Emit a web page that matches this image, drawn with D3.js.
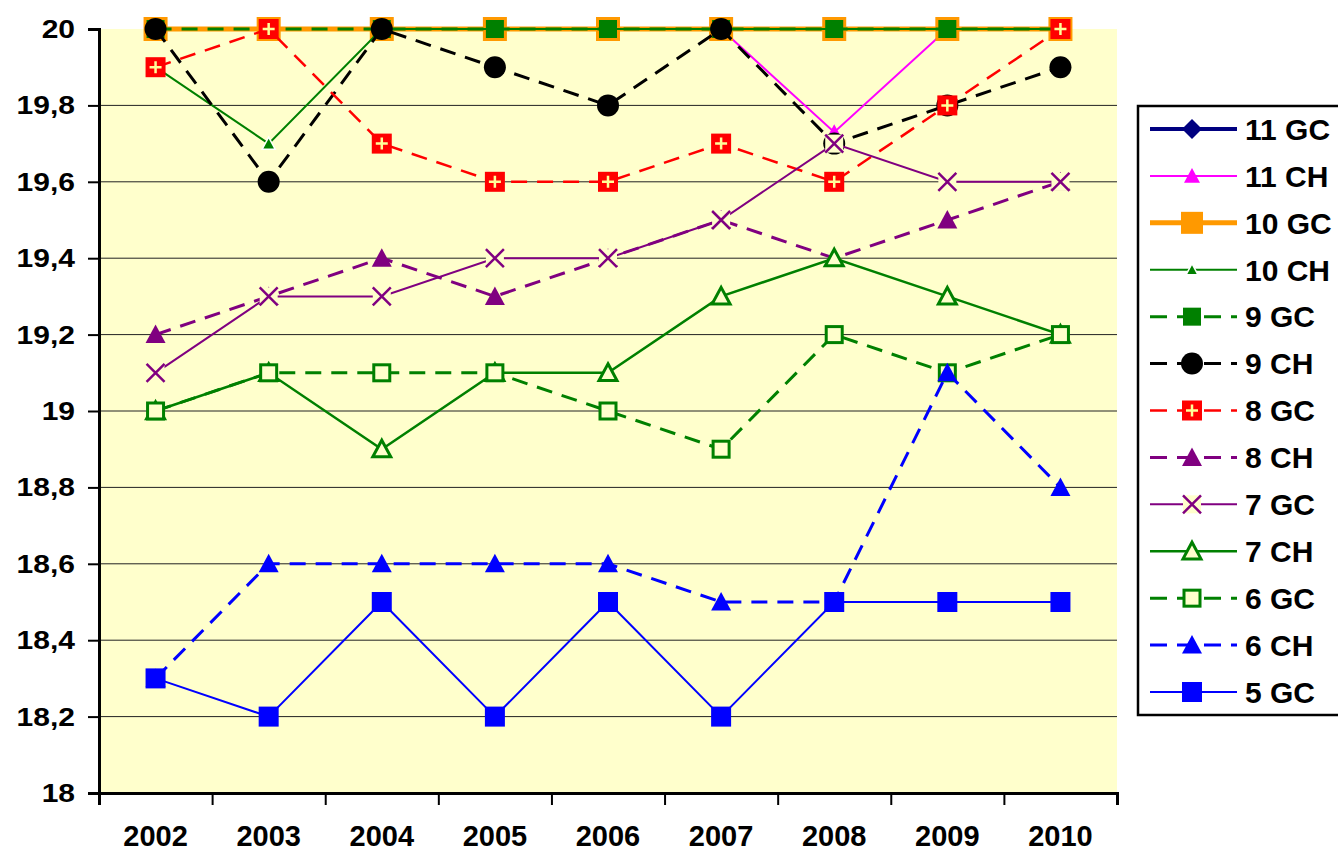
<!DOCTYPE html>
<html>
<head>
<meta charset="utf-8">
<script src="https://cdn.jsdelivr.net/npm/d3@7"></script>
<style>
  body { margin: 0; background: #fff; }
  text { font-family: "Liberation Sans", Arial, sans-serif; font-weight: bold; fill: #000; }
</style>
</head>
<body>
<div id="chart"></div>
<script>
const years = ['2002', '2003', '2004', '2005', '2006', '2007', '2008', '2009', '2010']
const yTicks = [18, 18.2, 18.4, 18.6, 18.8, 19, 19.2, 19.4, 19.6, 19.8, 20]

const gc11 = [20, 20, 20, 20, 20, 20, 20, 20, 20]
const ch11 = [20, 20, 20, 20, 20, 20, 19.73, 20, 20]
const gc10 = [20, 20, 20, 20, 20, 20, 20, 20, 20]
const ch10 = [19.9, 19.7, 20, 20, 20, 20, 20, 20, 20]
const gc9 = [20, 20, 20, 20, 20, 20, 20, 20, 20]
const ch9 = [20, 19.6, 20, 19.9, 19.8, 20, 19.7, 19.8, 19.9]
const gc8 = [19.9, 20, 19.7, 19.6, 19.6, 19.7, 19.6, 19.8, 20]
const ch8 = [19.2, 19.3, 19.4, 19.3, 19.4, 19.5, 19.4, 19.5, 19.6]
const gc7 = [19.1, 19.3, 19.3, 19.4, 19.4, 19.5, 19.7, 19.6, 19.6]
const ch7 = [19.0, 19.1, 18.9, 19.1, 19.1, 19.3, 19.4, 19.3, 19.2]
const gc6 = [19.0, 19.1, 19.1, 19.1, 19.0, 18.9, 19.2, 19.1, 19.2]
const ch6 = [18.3, 18.6, 18.6, 18.6, 18.6, 18.5, 18.5, 19.1, 18.8]
const gc5 = [18.3, 18.2, 18.5, 18.2, 18.5, 18.2, 18.5, 18.5, 18.5]

const YELLOW = '#FFFFCC'
const series = [
  { name: '11 GC', values: gc11, color: '#000080', width: 4, dash: null, marker: 'diamond', size: 20 },
  { name: '11 CH', values: ch11, color: '#FF00FF', width: 2, dash: null, marker: 'triangle', size: 16 },
  { name: '10 GC', values: gc10, color: '#FF9900', width: 5, dash: null, marker: 'square', size: 24 },
  { name: '10 CH', values: ch10, color: '#008000', width: 2, dash: null, marker: 'smalltri', size: 13 },
  { name: '9 GC', values: gc9, color: '#008000', width: 3, dash: '16,10', marker: 'square', size: 18 },
  { name: '9 CH', values: ch9, color: '#000000', width: 3, dash: '16,10', marker: 'circle', size: 22 },
  { name: '8 GC', values: gc8, color: '#FF0000', width: 2.5, dash: '16,10', marker: 'plus', size: 20 },
  { name: '8 CH', values: ch8, color: '#800080', width: 3, dash: '16,10', marker: 'triangle', size: 20 },
  { name: '7 GC', values: gc7, color: '#800080', width: 2, dash: null, marker: 'x', size: 18 },
  { name: '7 CH', values: ch7, color: '#008000', width: 2.5, dash: null, marker: 'opentri', size: 18 },
  { name: '6 GC', values: gc6, color: '#008000', width: 3, dash: '16,10', marker: 'opensquare', size: 19 },
  { name: '6 CH', values: ch6, color: '#0000FF', width: 3, dash: '16,10', marker: 'triangle', size: 20 },
  { name: '5 GC', values: gc5, color: '#0000FF', width: 2, dash: null, marker: 'square', size: 20 },
]

const W = 1338
const H = 853
const plot = { left: 99, right: 1117, top: 29, bottom: 793 }

const svg = d3.select('#chart').append('svg')
  .attr('width', W)
  .attr('height', H)

const x = d3.scaleBand().domain(years).range([plot.left, plot.right])
const xEdge = d3.scaleLinear().domain([0, years.length]).range([plot.left, plot.right])
const y = d3.scaleLinear().domain([18, 20]).range([plot.bottom, plot.top])
const cx = d => x(d) + x.bandwidth() / 2

svg.append('rect')
  .attr('x', plot.left).attr('y', plot.top)
  .attr('width', plot.right - plot.left).attr('height', plot.bottom - plot.top)
  .attr('fill', YELLOW)

// gridlines
svg.append('g')
  .selectAll('line')
  .data(yTicks.filter(t => t > 18 && t < 20))
  .enter().append('line')
  .attr('x1', plot.left).attr('x2', plot.right)
  .attr('y1', d => y(d)).attr('y2', d => y(d))
  .attr('stroke', '#222').attr('stroke-width', 1)

function drawMarker (g, m, color, s) {
  const h = s / 2
  if (m === 'diamond') {
    g.append('path').attr('d', `M0,${-h}L${h},0L0,${h}L${-h},0Z`).attr('fill', color)
  } else if (m === 'triangle' || m === 'smalltri') {
    g.append('path').attr('d', `M0,${-h}L${h},${h * 0.85}L${-h},${h * 0.85}Z`).attr('fill', color)
    if (m === 'smalltri') g.select('path').attr('stroke', '#fff').attr('stroke-width', 1.5)
  } else if (m === 'square') {
    g.append('rect').attr('x', -h).attr('y', -h).attr('width', s).attr('height', s).attr('fill', color)
  } else if (m === 'circle') {
    g.append('circle').attr('r', h).attr('fill', color)
  } else if (m === 'plus') {
    g.append('rect').attr('x', -h).attr('y', -h).attr('width', s).attr('height', s).attr('fill', color)
    g.append('path').attr('d', `M${-h * 0.6},0H${h * 0.6}M0,${-h * 0.6}V${h * 0.6}`)
      .attr('stroke', '#FFFF99').attr('stroke-width', 2.5)
  } else if (m === 'x') {
    g.append('rect').attr('x', -h).attr('y', -h).attr('width', s).attr('height', s).attr('fill', YELLOW)
    g.append('path').attr('d', `M${-h},${-h}L${h},${h}M${h},${-h}L${-h},${h}`)
      .attr('stroke', color).attr('stroke-width', 2.5)
  } else if (m === 'opentri') {
    g.append('path').attr('d', `M0,${-h}L${h},${h * 0.85}L${-h},${h * 0.85}Z`)
      .attr('fill', YELLOW).attr('stroke', color).attr('stroke-width', 3)
  } else if (m === 'opensquare') {
    g.append('rect').attr('x', -h + 1.5).attr('y', -h + 1.5).attr('width', s - 3).attr('height', s - 3)
      .attr('fill', YELLOW).attr('stroke', color).attr('stroke-width', 3)
  }
}

const line = d3.line().x((d, i) => cx(years[i])).y(d => y(d))

series.forEach(s => {
  const g = svg.append('g').attr('class', 'series')
  g.append('path')
    .datum(s.values)
    .attr('d', line)
    .attr('fill', 'none')
    .attr('stroke', s.color)
    .attr('stroke-width', s.width)
    .attr('stroke-dasharray', s.dash)
  g.selectAll('g.mk')
    .data(s.values)
    .enter().append('g')
    .attr('class', 'mk')
    .attr('transform', (d, i) => `translate(${cx(years[i])},${y(d)})`)
    .each(function () { drawMarker(d3.select(this), s.marker, s.color, s.size) })
})

// y axis
const fmt = d => String(+d.toFixed(1)).replace('.', ',')
const yAxis = svg.append('g')
  .attr('transform', `translate(${plot.left},0)`)
  .call(d3.axisLeft(y).tickValues(yTicks).tickSize(11).tickFormat(''))
yAxis.select('.domain').attr('stroke', '#000').attr('stroke-width', 3)
yAxis.selectAll('.tick line').attr('stroke', '#000').attr('stroke-width', 2)

svg.append('g')
  .selectAll('text')
  .data(yTicks)
  .enter().append('text')
  .attr('transform', d => `translate(75,${y(d)}) scale(1.2,1)`)
  .attr('text-anchor', 'end')
  .attr('dy', '0.36em')
  .style('font-size', '25px')
  .text(fmt)

// x axis
const xAxis = svg.append('g')
  .attr('transform', `translate(0,${plot.bottom})`)
  .call(d3.axisBottom(xEdge).tickValues(d3.range(years.length + 1)).tickSize(12).tickFormat(''))
xAxis.select('.domain').attr('stroke', '#000').attr('stroke-width', 3)
xAxis.selectAll('.tick line').attr('stroke', '#000').attr('stroke-width', 2)

svg.append('g')
  .selectAll('text')
  .data(years)
  .enter().append('text')
  .attr('x', d => cx(d))
  .attr('y', 846)
  .attr('text-anchor', 'middle')
  .style('font-size', '29px')
  .text(d => d)

// legend
const legend = svg.append('g')
legend.append('rect')
  .attr('x', 1138).attr('y', 106)
  .attr('width', 220).attr('height', 609)
  .attr('fill', '#fff').attr('stroke', '#000').attr('stroke-width', 2.5)

const ly = d3.scalePoint().domain(series.map(s => s.name)).range([129, 692])
series.forEach(s => {
  const g = legend.append('g').attr('transform', `translate(0,${ly(s.name)})`)
  g.append('line')
    .attr('x1', 1150).attr('x2', 1237)
    .attr('stroke', s.color)
    .attr('stroke-width', s.width)
    .attr('stroke-dasharray', s.dash ? '17,10' : null)
  const m = g.append('g').attr('transform', 'translate(1192,0)')
  drawMarker(m, s.marker, s.color, s.marker === 'smalltri' ? 12 : Math.min(s.size, 22))
  g.append('text')
    .attr('x', 1245)
    .attr('dy', '0.36em')
    .style('font-size', '30px')
    .text(s.name)
})
</script>
</body>
</html>
